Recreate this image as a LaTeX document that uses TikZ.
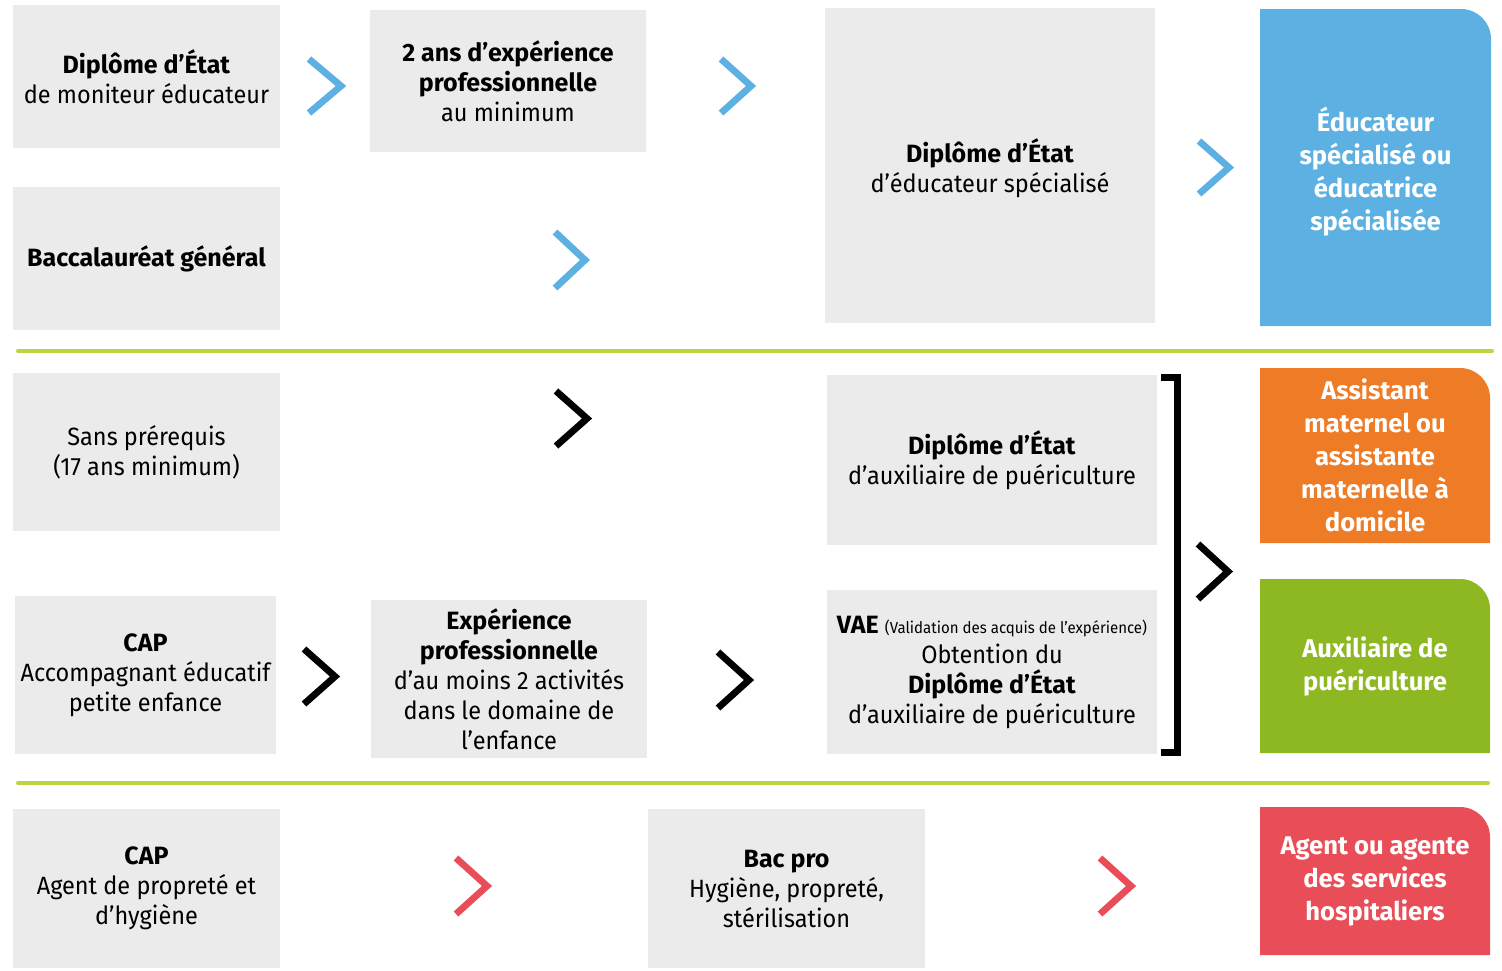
\documentclass[tikz,border=0pt]{standalone}
\usepackage{fontspec}
\setmainfont{Fira Sans}[FakeStretch=0.94, BoldFeatures={FakeStretch=1.0}]
\definecolor{boxgray}{HTML}{EBEBEB}
\definecolor{cblue}{HTML}{5DB0E2}
\definecolor{corange}{HTML}{EE7B26}
\definecolor{cgreen}{HTML}{8DB821}
\definecolor{cred}{HTML}{E94E58}
\definecolor{lgreen}{HTML}{BDD444}
\tikzset{
  gbox/.style={fill=boxgray, inner sep=0pt, align=center, text=black,
    font=\fontsize{12.5}{15}\selectfont},
  cboxtext/.style={inner sep=0pt, align=center, text=white,
    font=\bfseries\fontsize{12.8}{16.5}\selectfont},
  chevron/.style={line width=3.4pt, miter limit=10, line join=miter},
  sepline/.style={lgreen, line width=2pt, line cap=round},
}
\newcommand\gnode[7][gbox]{\node[#1, minimum width={(#5-#3)*0.5pt}, minimum height={(#6-#4)*0.5pt}] (#2) at ({(#3+#5)/2},{(#4+#6)/2}) {#7};}
\newcommand\cfill[5]{\fill[#1] (#2,#5) -- (#2,#3) -- (#4-30,#3) arc(-90:0:30) -- (#4,#5) -- cycle;}
\newcommand\chev[5]{\draw[chevron,#1] (#2+3,#3+4) -- (#4-7,{(#3+#5)/2}) -- (#2+3,#5-4);}
\begin{document}
\begin{tikzpicture}[x=0.5pt,y=-0.5pt]
\useasboundingbox (0,0) rectangle (1502,970);
% row 1
\gnode{dme}{13}{5}{280}{148}{\textbf{Diplôme d’État}\\de moniteur éducateur}
\gnode{exp2}{370}{10}{646}{152}{\textbf{2 ans d’expérience}\\\textbf{professionnelle}\\au minimum}
\gnode{dees}{825}{8}{1155}{329}{\textbf{Diplôme d’État}\\d’éducateur spécialisé}
\fill[boxgray] (825,323) rectangle (1155,329);
\fill[white] (820,323) rectangle (1160,335);
\gnode{bac}{13}{187}{280}{330}{\textbf{Baccalauréat général}}
\cfill{cblue}{1260}{9}{1491}{326}
\gnode[cboxtext]{edu}{1260}{12}{1491}{332}{Éducateur\\spécialisé ou\\éducatrice\\spécialisée}
\chev{cblue}{306}{55}{348}{117}
\chev{cblue}{718}{55}{758}{117}
\chev{cblue}{552}{228}{592}{292}
\chev{cblue}{1196}{137}{1236}{198}
\draw[sepline] (18,351) -- (1492,351);
% row 2
\gnode{sans}{13}{373}{280}{531}{Sans prérequis\\(17 ans minimum)}
\gnode{deap}{827}{375}{1157}{545}{\textbf{Diplôme d’État}\\d’auxiliaire de puériculture}
\gnode{cap1}{15}{596}{276}{754}{\textbf{CAP}\\Accompagnant éducatif\\petite enfance}
\gnode{expro}{371}{600}{647}{758}{\textbf{Expérience}\\\textbf{professionnelle}\\d’au moins 2 activités\\dans le domaine de\\l’enfance}
\gnode{vae}{827}{590}{1157}{754}{\textbf{VAE} {\fontsize{8}{10}\selectfont(Validation des acquis de l’expérience)}\\Obtention du\\\textbf{Diplôme d’État}\\d’auxiliaire de puériculture}
\cfill{corange}{1260}{368}{1490}{543}
\gnode[cboxtext]{asmat}{1260}{368}{1490}{543}{Assistant\\maternel ou\\assistante\\maternelle à\\domicile}
\cfill{cgreen}{1260}{579}{1490}{753}
\gnode[cboxtext]{auxp}{1260}{579}{1490}{753}{Auxiliaire de\\puériculture}
\chev{black}{553}{387}{594}{450}
\chev{black}{301}{645}{342}{708}
\chev{black}{715}{648}{756}{712}
\chev{black}{1195}{540}{1235}{603}
\draw[line width=3.5pt, line join=miter] (1161,377.5) -- (1177.5,377.5) -- (1177.5,752) -- (1161,752);
\draw[sepline] (18,783) -- (1488,783);
% row 3
\gnode{cap2}{13}{809}{280}{968}{\textbf{CAP}\\Agent de propreté et\\d’hygiène}
\gnode{bacpro}{648}{809}{925}{968}{\textbf{Bac pro}\\Hygiène, propreté,\\stérilisation}
\cfill{cred}{1260}{807}{1490}{955}
\gnode[cboxtext]{ash}{1260}{807}{1490}{955}{Agent ou agente\\des services\\hospitaliers}
\chev{cred}{453}{854}{494}{918}
\chev{cred}{1097}{854}{1138}{918}
\end{tikzpicture}
\end{document}
